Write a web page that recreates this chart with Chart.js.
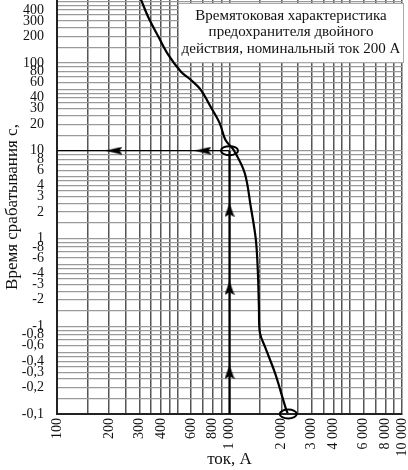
<!DOCTYPE html>
<html>
<head>
<meta charset="utf-8">
<script src="https://cdn.jsdelivr.net/npm/chart.js@4/dist/chart.umd.min.js"></script>
<style>
  body { margin: 0; background: #fff; }
  canvas { display: block; }
</style>
</head>
<body>
<canvas id="fuseChart" width="408" height="470"></canvas>
<script>
// time-current curve of the fuse (current in A, time in s)
const curveCurrent = [305, 340, 388, 442, 525, 598, 683, 779, 877, 948, 1056, 1225, 1329, 1422, 1461, 1481, 1501, 1607, 1839, 2050, 2135, 2175];
const curveTime = [540, 324, 197, 123, 78.6, 63.7, 49, 31.4, 20.6, 13.2, 10.2, 5.56, 2.28, 0.96, 0.404, 0.166, 0.084, 0.058, 0.029, 0.0144, 0.0111, 0.0102];

// reading guides: 1000 A -> 10 s
const guideCurrent = [1000, 1000];
const guideTime = [0.01, 10];
const readCurrent = [100, 1000];
const readTime = [10, 10];
const upArrowTimes = [2.1, 0.272, 0.030];
const leftArrowCurrents = [214, 702];

// circled points
const markCurrents = [1000, 2190];
const markTimes = [10, 0.01];

// axes
const xGridValues = [100, 150, 200, 250, 300, 350, 400, 450, 500, 600, 700, 800, 900,
  1000, 1500, 2000, 2500, 3000, 3500, 4000, 4500, 5000, 6000, 7000, 8000, 9000, 10000];
const xLabelValues = [100, 200, 300, 400, 600, 800, 1000, 2000, 3000, 4000, 6000, 8000, 10000];
const xLabelTexts = ['100', '200', '300', '400', '600', '800', '1 000', '2 000', '3 000', '4 000', '6 000', '8 000', '10 000'];

const yGridValues = [0.01, 0.015, 0.02, 0.025, 0.03, 0.035, 0.04, 0.045, 0.05, 0.06, 0.07, 0.08, 0.09,
  0.1, 0.15, 0.2, 0.25, 0.3, 0.35, 0.4, 0.45, 0.5, 0.6, 0.7, 0.8, 0.9,
  1, 1.5, 2, 2.5, 3, 3.5, 4, 4.5, 5, 6, 7, 8, 9,
  10, 15, 20, 25, 30, 35, 40, 45, 50, 60, 70, 80, 90,
  100, 150, 200, 250, 300, 350, 400, 450, 500];
const yLabelValues = [400, 300, 200, 100, 80, 60, 40, 30, 20, 10, 8, 6, 4, 3, 2, 1,
  0.8, 0.6, 0.4, 0.3, 0.2, 0.1, 0.08, 0.06, 0.04, 0.03, 0.02, 0.01];
const yLabelTexts = ['400', '300', '200', '100', '80', '60', '40', '30', '20', '10', '8', '6', '4', '3', '2', '1',
  '-8', '-6', '-4', '-3', '-2', '-1', '-0,8', '-0,6', '-0,4', '-0,3', '-0,2', '-0,1'];

const boxLines = ['Времятоковая характеристика', 'предохранителя двойного', 'действия, номинальный ток 200 А'];

const serif = "'Liberation Serif', 'DejaVu Serif', serif";

// arrow heads used as point images
function makeArrow(w, h, dir) {
  const c = document.createElement('canvas');
  c.width = w; c.height = h;
  const g = c.getContext('2d');
  g.fillStyle = '#000';
  g.beginPath();
  if (dir === 'up') {
    g.moveTo(w / 2, 0); g.lineTo(w, h); g.lineTo(w / 2, h - 3); g.lineTo(0, h);
  } else {
    g.moveTo(0, h / 2); g.lineTo(w, 0); g.lineTo(w - 3, h / 2); g.lineTo(w, h);
  }
  g.closePath();
  g.fill();
  return c;
}
const arrowUp = makeArrow(10, 14, 'up');
const arrowLeft = makeArrow(17, 8, 'left');

function pts(xs, ys) {
  return xs.map((x, i) => ({ x: x, y: ys[i] }));
}

const ellipsePlugin = {
  id: 'marks',
  afterDatasetsDraw(chart) {
    const ctx = chart.ctx, xs = chart.scales.x, ys = chart.scales.y;
    ctx.save();
    ctx.strokeStyle = '#000';
    ctx.lineWidth = 2;
    markCurrents.forEach((c, i) => {
      ctx.beginPath();
      ctx.ellipse(xs.getPixelForValue(c), ys.getPixelForValue(markTimes[i]), 8.5, 4.5, 0, 0, Math.PI * 2);
      ctx.stroke();
    });
    ctx.restore();
  }
};

const boxPlugin = {
  id: 'infoBox',
  afterDraw(chart) {
    const ctx = chart.ctx;
    const right = chart.chartArea.right + 2, left = 178, top = 3, bottom = 63;
    ctx.save();
    ctx.fillStyle = '#fff';
    ctx.fillRect(left, top, right - left, bottom - top);
    ctx.strokeStyle = '#aaa';
    ctx.lineWidth = 1;
    ctx.strokeRect(left + 0.5, top + 0.5, right - left - 1, bottom - top - 1);
    ctx.fillStyle = '#111';
    ctx.font = '15px ' + serif;
    ctx.textAlign = 'center';
    ctx.textBaseline = 'middle';
    boxLines.forEach((t, i) => ctx.fillText(t, (left + right) / 2, 16 + i * 16.5));
    ctx.restore();
  }
};

const ctx = document.getElementById('fuseChart').getContext('2d');
const fuseChart = new Chart(ctx, {
  type: 'scatter',
  data: {
    datasets: [
      {
        data: pts(curveCurrent, curveTime),
        showLine: true,
        borderColor: '#000',
        borderWidth: 2.2,
        pointRadius: 0,
        tension: 0.35
      },
      {
        data: pts(guideCurrent, guideTime),
        showLine: true,
        borderColor: '#000',
        borderWidth: 2.2,
        pointRadius: 0
      },
      {
        data: pts(readCurrent, readTime),
        showLine: true,
        borderColor: '#000',
        borderWidth: 1.4,
        pointRadius: 0
      },
      {
        data: upArrowTimes.map(t => ({ x: guideCurrent[0], y: t })),
        pointStyle: arrowUp,
        pointRadius: 7
      },
      {
        data: leftArrowCurrents.map(c => ({ x: c, y: readTime[0] })),
        pointStyle: arrowLeft,
        pointRadius: 8
      }
    ]
  },
  options: {
    responsive: false,
    animation: false,
    layout: { autoPadding: false, padding: { left: 0, right: 6, top: 0, bottom: 0 } },
    plugins: {
      legend: { display: false },
      tooltip: { enabled: false }
    },
    scales: {
      x: {
        type: 'logarithmic',
        min: 100,
        max: 10000,
        afterBuildTicks: s => { s.ticks = xGridValues.map(v => ({ value: v })); },
        afterFit: s => { s.height = 56; s.paddingLeft = 0; s.paddingRight = 0; },
        ticks: {
          autoSkip: false,
          maxRotation: 90,
          minRotation: 90,
          padding: 4,
          color: '#111',
          font: { family: serif, size: 14 },
          callback: v => { const i = xLabelValues.indexOf(v); return i >= 0 ? xLabelTexts[i] : ''; }
        },
        grid: { color: '#555', lineWidth: 1.5, drawTicks: false },
        border: { color: '#222', width: 2 },
        title: {
          display: true,
          text: 'ток, А',
          color: '#111',
          font: { family: serif, size: 17 },
          padding: { top: 0, bottom: 0 }
        }
      },
      y: {
        type: 'logarithmic',
        min: 0.01,
        max: 520,
        afterBuildTicks: s => { s.ticks = yGridValues.map(v => ({ value: v })); },
        afterFit: s => { s.width = 57; s.paddingTop = 0; s.paddingBottom = 0; },
        ticks: {
          autoSkip: false,
          padding: 13,
          color: '#111',
          font: { family: serif, size: 14 },
          callback: v => { const i = yLabelValues.indexOf(v); return i >= 0 ? yLabelTexts[i] : ''; }
        },
        grid: { color: '#9a9a9a', lineWidth: 1.2, drawTicks: false },
        border: { color: '#222', width: 2 },
        title: {
          display: true,
          text: 'Время срабатывания с,',
          color: '#111',
          font: { family: serif, size: 17 },
          padding: { top: 2, bottom: 0 }
        }
      }
    }
  },
  plugins: [ellipsePlugin, boxPlugin]
});
</script>
</body>
</html>
